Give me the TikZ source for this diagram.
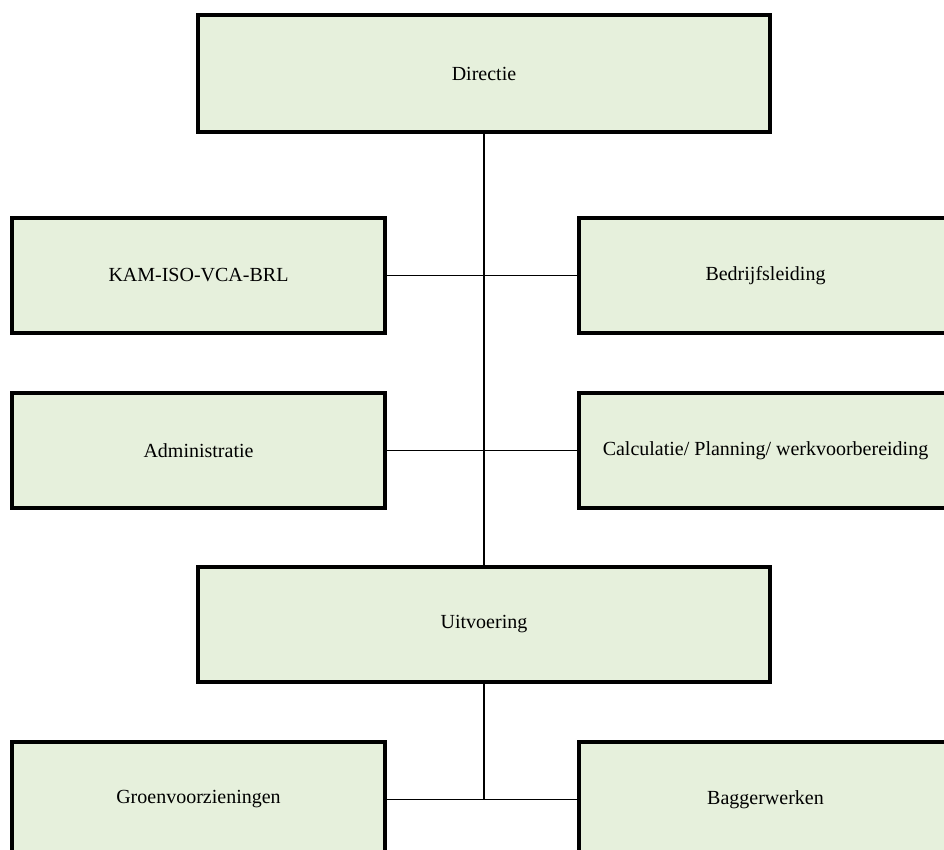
\documentclass[tikz,border=0pt]{standalone}
\usepackage{fontspec}
\setmainfont{Liberation Serif}
\definecolor{boxgreen}{RGB}{230,240,220}
\tikzset{
  orgbox/.style={draw=black, line width=2pt, fill=boxgreen, minimum width=186.5pt,
    minimum height=57.5pt, inner sep=0pt, font=\fontsize{10}{12}\selectfont},
  widebox/.style={orgbox, minimum width=286pt, minimum height=58.5pt},
  link/.style={draw=black, line width=0.9pt}
}
\begin{document}
\begin{tikzpicture}[x=0.5pt,y=-0.5pt]
            \useasboundingbox (0,0) rectangle (944,850);

            % top
            \node[widebox] (directie) at (484,73.5) {Directie};

            % staff
            \node[orgbox] (kam) at (198.5,275.5) {KAM-ISO-VCA-BRL};
            \node[orgbox] (bedrijf) at (765.5,275.5) {Bedrijfsleiding};
            \node[orgbox] (admin) at (198.5,450.5) {Administratie};
            \node[orgbox] (calc) at (765.5,450.5) {Calculatie/ Planning/ werkvoorbereiding};

            % execution
            \node[widebox, minimum height=57.5pt] (uitv) at (484,624.5) {Uitvoering};
            \node[orgbox] (groen) at (198.5,799.5) {Groenvoorzieningen};
            \node[orgbox] (bagger) at (765.5,799.5) {Baggerwerken};

            % lines
            \draw[link] (directie.south) -- (uitv.north);
            \draw[link] (kam.east) -- (bedrijf.west);
            \draw[link] (admin.east) -- (calc.west);
            \draw[link] (groen.east) -- (bagger.west);
            \coordinate (split) at (uitv.south |- groen.east);
            \draw[link] (uitv.south) -- (split);
        \end{tikzpicture}
\end{document}
